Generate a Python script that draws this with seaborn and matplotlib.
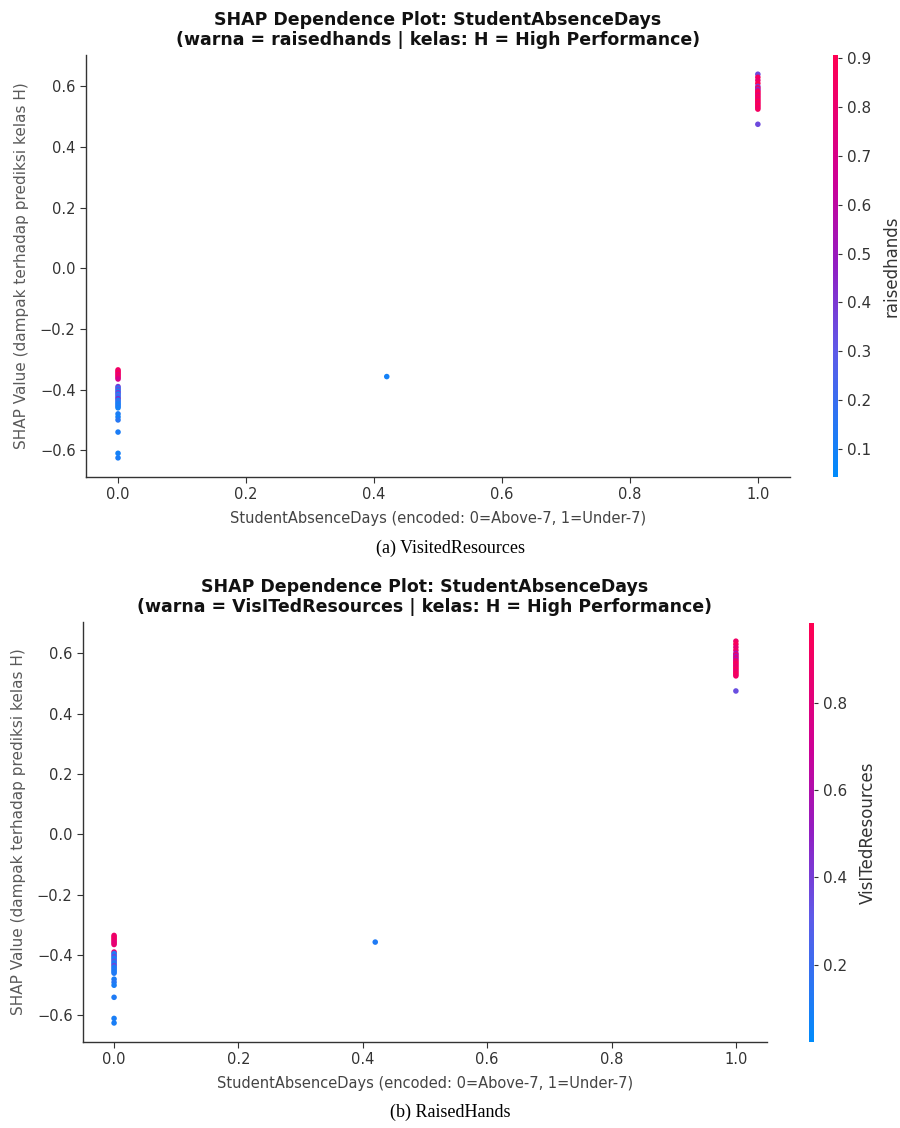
import numpy as np
import pandas as pd
import matplotlib
matplotlib.use("Agg")
import matplotlib.pyplot as plt
import seaborn as sns
from matplotlib.colors import LinearSegmentedColormap, Normalize
from matplotlib.cm import ScalarMappable

# ---------------- data ----------------
# StudentAbsenceDays encoded value for each sample
x_above7 = [0.0] * 28
x_mid = [0.42]
x_under7 = [1.0] * 21

shap_above7 = [-0.335, -0.34, -0.345, -0.35, -0.355, -0.36, -0.365,
               -0.39, -0.395, -0.40, -0.405, -0.41, -0.415, -0.42,
               -0.425, -0.43, -0.435, -0.44, -0.445, -0.45, -0.455,
               -0.46, -0.48, -0.49, -0.50, -0.54, -0.61, -0.625]
shap_mid = [-0.357]
shap_under7 = [0.64, 0.63, 0.62, 0.61, 0.60, 0.595, 0.59, 0.585, 0.58,
               0.575, 0.57, 0.565, 0.56, 0.555, 0.55, 0.545, 0.54, 0.535,
               0.53, 0.525, 0.475]

raised_above7 = [0.85, 0.80, 0.90, 0.75, 0.85, 0.80, 0.70,
                 0.40, 0.15, 0.35, 0.12, 0.40, 0.10, 0.30,
                 0.15, 0.45, 0.10, 0.20, 0.12, 0.10, 0.15,
                 0.10, 0.12, 0.10, 0.15, 0.12, 0.10, 0.12]
raised_mid = [0.10]
raised_under7 = [0.35, 0.85, 0.80, 0.90, 0.40, 0.85, 0.45, 0.80, 0.90,
                 0.85, 0.75, 0.90, 0.80, 0.85, 0.90, 0.80, 0.85, 0.90,
                 0.80, 0.85, 0.35]

visited_above7 = [0.90, 0.85, 0.95, 0.85, 0.90, 0.80, 0.85,
                  0.85, 0.15, 0.10, 0.40, 0.12, 0.10, 0.35,
                  0.15, 0.10, 0.40, 0.12, 0.10, 0.15, 0.10,
                  0.12, 0.10, 0.15, 0.10, 0.12, 0.10, 0.10]
visited_mid = [0.12]
visited_under7 = [0.90, 0.95, 0.85, 0.90, 0.60, 0.90, 0.55, 0.85, 0.60,
                  0.90, 0.85, 0.95, 0.90, 0.85, 0.90, 0.95, 0.85, 0.90,
                  0.95, 0.90, 0.35]

feature_x = x_above7 + x_mid + x_under7
shap_vals = shap_above7 + shap_mid + shap_under7
raisedhands = raised_above7 + raised_mid + raised_under7
visitedres = visited_above7 + visited_mid + visited_under7

df = pd.DataFrame({"x": feature_x, "shap": shap_vals,
                   "raisedhands": raisedhands, "VisITedResources": visitedres})

# ---------------- style ----------------
sns.set_style("white")
plt.rcParams["font.family"] = ["DejaVu Sans"]
gray = "#333333"

red_blue = LinearSegmentedColormap.from_list(
    "red_blue",
    [(0.0, (0/255, 139/255, 251/255)),
     (0.3, (95/255, 90/255, 232/255)),
     (0.5, (145/255, 30/255, 195/255)),
     (0.7, (205/255, 0/255, 150/255)),
     (1.0, (255/255, 0/255, 82/255))])

fig = plt.figure(figsize=(9, 11.28), dpi=100)

panels = [
    dict(col="raisedhands", title_col="raisedhands",
         ax_rect=[0.0956, 0.5771, 0.782, 0.3741],
         cb_rect=[0.9256, 0.5771, 0.0056, 0.3741],
         vmin=0.043, vmax=0.906, ticks=[0.1, 0.2, 0.3, 0.4, 0.5, 0.6, 0.7, 0.8, 0.9],
         caption="(a) VisitedResources", cap_y=1 - 548/1128),
    dict(col="VisITedResources", title_col="VisITedResources",
         ax_rect=[0.0922, 0.0762, 0.760, 0.3723],
         cb_rect=[0.8989, 0.0762, 0.0056, 0.3715],
         vmin=0.023, vmax=0.983, ticks=[0.2, 0.4, 0.6, 0.8],
         caption="(b) RaisedHands", cap_y=1 - 1112/1128),
]

for p in panels:
    ax = fig.add_axes(p["ax_rect"])
    norm = Normalize(vmin=p["vmin"], vmax=p["vmax"])
    sns.scatterplot(data=df, x="x", y="shap", hue=p["col"], palette=red_blue,
                    hue_norm=norm, s=16, linewidth=0, alpha=1.0, ax=ax,
                    legend=False)
    ax.margins(x=0.05, y=0.05)
    ax.set_xticks([0.0, 0.2, 0.4, 0.6, 0.8, 1.0])
    ax.set_yticks([-0.6, -0.4, -0.2, 0.0, 0.2, 0.4, 0.6])
    ax.set_xticklabels([f"{v:.1f}" for v in [0.0, 0.2, 0.4, 0.6, 0.8, 1.0]])
    ax.set_yticklabels([f"{v:.1f}".replace("-", "\u2212") for v in [-0.6, -0.4, -0.2, 0.0, 0.2, 0.4, 0.6]])
    for s in ["top", "right"]:
        ax.spines[s].set_visible(False)
    for s in ["left", "bottom"]:
        ax.spines[s].set_color(gray)
        ax.spines[s].set_linewidth(1.0)
    ax.tick_params(axis="both", colors=gray, labelcolor=gray, labelsize=10.5,
                   length=4, width=0.8, direction="out", bottom=True, left=True)
    ax.set_xlabel("StudentAbsenceDays (encoded: 0=Above-7, 1=Under-7)",
                  fontsize=10.5, color="#444444", labelpad=6)
    ax.set_ylabel("SHAP Value (dampak terhadap prediksi kelas H)",
                  fontsize=11, color="#5a5a5a", labelpad=8)
    ax.set_title("SHAP Dependence Plot: StudentAbsenceDays\n"
                 f"(warna = {p['title_col']} | kelas: H = High Performance)",
                 fontsize=12.5, fontweight="bold", color="#111111", pad=7,
                 linespacing=1.15)

    cax = fig.add_axes(p["cb_rect"])
    sm = ScalarMappable(norm=norm, cmap=red_blue)
    cb = fig.colorbar(sm, cax=cax, ticks=p["ticks"])
    cb.outline.set_visible(False)
    cax.tick_params(colors=gray, labelcolor=gray, labelsize=11, length=3, width=0.8)
    cb.set_label(p["col"], fontsize=12, color=gray, labelpad=8)

    fig.text(0.5, p["cap_y"], p["caption"], ha="center", va="center",
             fontsize=13, family="Liberation Serif", color="black")

fig.savefig("out.png", dpi=100)
